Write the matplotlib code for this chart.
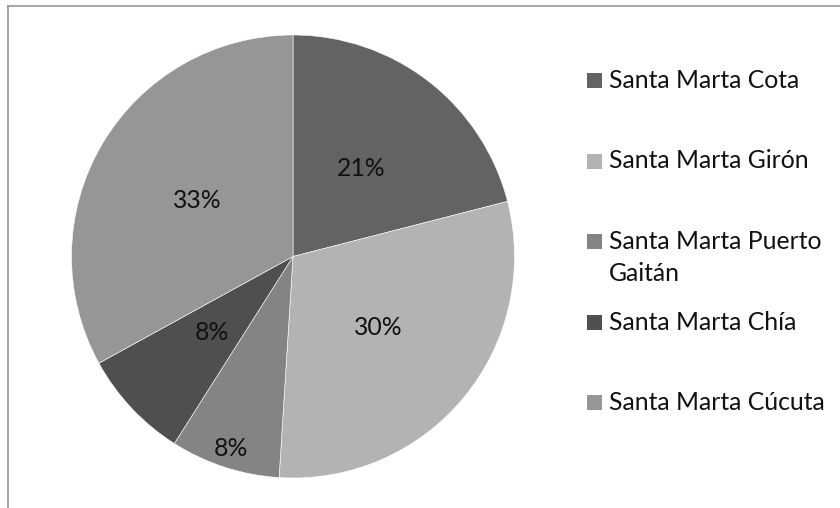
import matplotlib
matplotlib.use('Agg')
import matplotlib.pyplot as plt
from matplotlib.patches import Rectangle
import numpy as np

# Share of Santa Marta shipments by destination
labels = ['Santa Marta Cota', 'Santa Marta Girón', 'Santa Marta Puerto\nGaitán',
          'Santa Marta Chía', 'Santa Marta Cúcuta']
values = [21, 30, 8, 8, 33]
colors = ['#636363', '#b3b3b3', '#848484', '#4f4f4f', '#969696']
# radial position of each percentage label (fraction of the radius)
label_r = [0.5, 0.5, 0.91, 0.5, 0.5]

W, H = 840, 508
plt.rcParams['font.family'] = ['Lato', 'DejaVu Sans']
FS = 17.8

fig = plt.figure(figsize=(W / 100, H / 100), dpi=100)
fig.patch.set_facecolor('white')

# pie axes: centre (293, 256.5) px, radius 221.5 px
cx, cy, r = 293, 256.5, 221.5
ax = fig.add_axes([(cx - r) / W, (H - cy - r) / H, 2 * r / W, 2 * r / H])
wedges, _ = ax.pie(values, colors=colors, startangle=90, counterclock=False,
                   wedgeprops=dict(edgecolor='white', linewidth=0.4))
ax.set_xlim(-1, 1)
ax.set_ylim(-1, 1)
ax.set_aspect('equal')
ax.axis('off')

total = sum(values)
for w, v, d in zip(wedges, values, label_r):
    ang = np.deg2rad((w.theta1 + w.theta2) / 2)
    ax.text(d * np.cos(ang), d * np.sin(ang), f'{v / total * 100:.0f}%',
            ha='center', va='center', fontsize=FS, color='#111111')

# chart area border (only top and left edges fall inside the image)
fig.add_artist(plt.Line2D([8 / W, 1], [1 - 6 / H, 1 - 6 / H],
                          transform=fig.transFigure, color='#9d9d9d', lw=1.3))
fig.add_artist(plt.Line2D([8 / W, 8 / W], [0, 1 - 6 / H],
                          transform=fig.transFigure, color='#9d9d9d', lw=1.3))

# legend, one row every 80.5 px starting at y = 80.5; wrapped lines 32 px apart
sq = 15
for i, (lab, col) in enumerate(zip(labels, colors)):
    yc = 80.5 + i * 80.5
    fig.add_artist(Rectangle((587 / W, (H - yc - sq / 2) / H), sq / W, sq / H,
                             transform=fig.transFigure, facecolor=col,
                             edgecolor='none'))
    for k, line in enumerate(lab.split('\n')):
        fig.text(609 / W, (H - yc - 7.5 - 32 * k) / H, line, ha='left',
                 va='baseline', fontsize=FS, color='#111111')

fig.savefig('out.png', dpi=100, facecolor='white')
